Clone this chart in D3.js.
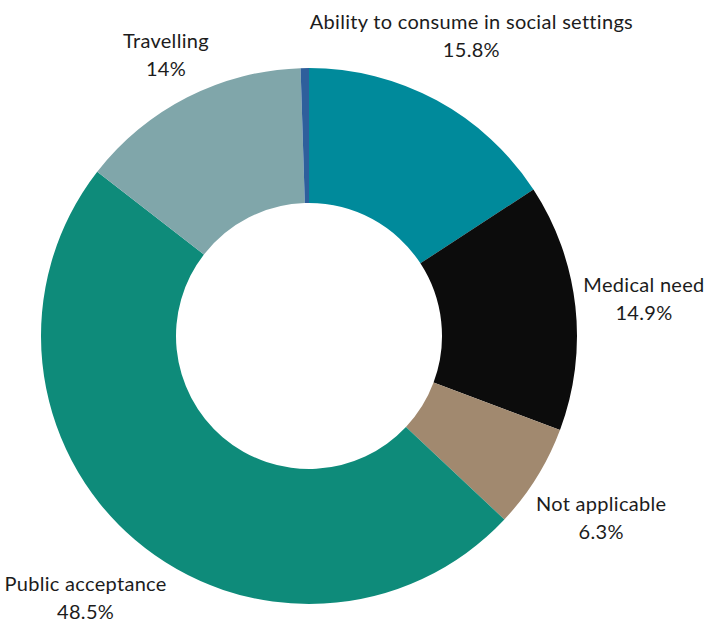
<!DOCTYPE html>
<html>
<head>
<meta charset="utf-8">
<script src="https://cdn.jsdelivr.net/npm/d3@7"></script>
<style>
  html, body { margin: 0; padding: 0; background: #fff; }
  svg { display: block; }
  text { font-family: Lato, "Open Sans", sans-serif; }
</style>
</head>
<body>
<svg id="chart" width="710" height="624"></svg>
<script>
// Reasons respondents gave (share of responses, %)
const categories = [
  "Ability to consume in social settings",
  "Medical need",
  "Not applicable",
  "Public acceptance",
  "Travelling",
  "Other"
];
const values = [15.8, 14.9, 6.3, 48.5, 14, 0.5];
const valueLabels = ["15.8%", "14.9%", "6.3%", "48.5%", "14%", ""];
const colors = ["#008a9b", "#0c0c0c", "#a1896f", "#0e8b7a", "#80a6aa", "#2e5f9c"];

const width = 710, height = 624;
const cx = 309, cy = 336;
const outerR = 268, innerR = 133;

const svg = d3.select("#chart");
const g = svg.append("g").attr("transform", `translate(${cx},${cy})`);

const data = categories.map((c, i) => ({ name: c, value: values[i], label: valueLabels[i], color: colors[i] }));

const pie = d3.pie().value(d => d.value).sort(null);
const arc = d3.arc().innerRadius(innerR).outerRadius(outerR);
const arcs = pie(data);

g.selectAll("path.slice")
  .data(arcs)
  .join("path")
  .attr("class", "slice")
  .attr("d", arc)
  .attr("fill", d => d.data.color);

// Labels: two centred lines, pushed outward along the slice's mid-angle
// until the text box clears the ring by a small gap.
const gap = 6;
const lineH = 28;
arcs.filter(d => d.data.label).forEach(d => {
  const lg = g.append("g");
  const t = lg.append("text")
    .attr("text-anchor", "middle")
    .attr("fill", "#1c1c1c")
    .style("font-size", "20px")
    .style("letter-spacing", "0.3px");
  t.append("tspan").attr("x", 0).attr("y", -lineH / 2 + 7).text(d.data.name);
  t.append("tspan").attr("x", 0).attr("y", lineH / 2 + 7).text(d.data.label);
  const bb = t.node().getBBox();
  const mid = (d.startAngle + d.endAngle) / 2;
  const ux = Math.sin(mid), uy = -Math.cos(mid);
  let dist = outerR;
  for (let k = 0; k < 400; k++) {
    const px = ux * dist, py = uy * dist;
    const x0 = px + bb.x, x1 = x0 + bb.width;
    const y0 = py + bb.y, y1 = y0 + bb.height;
    const nx = Math.max(x0, Math.min(0, x1));
    const ny = Math.max(y0, Math.min(0, y1));
    if (Math.hypot(nx, ny) >= outerR + gap) break;
    dist += 1;
  }
  lg.attr("transform", `translate(${ux * dist},${uy * dist})`);
});
</script>
</body>
</html>
